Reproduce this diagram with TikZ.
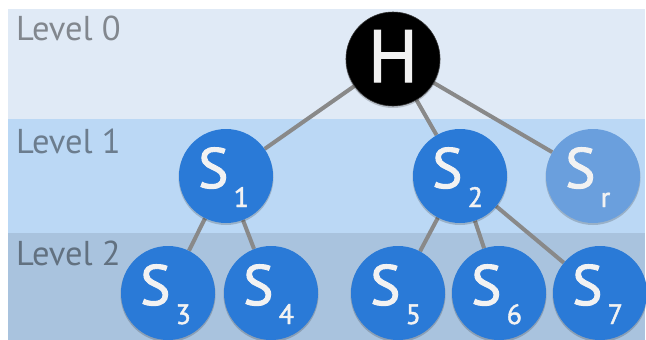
\documentclass[tikz,border=0pt]{standalone}
\usepackage{fontspec}
\setmainfont{PT Sans}
\newfontfamily\medfont{PT Sans}[FakeBold=1.6]
\definecolor{bandA}{HTML}{E0EAF6}
\definecolor{bandB}{HTML}{BBD8F5}
\definecolor{bandC}{HTML}{A9C3DE}
\definecolor{nodeblue}{HTML}{2A7AD7}
\definecolor{nodelight}{HTML}{6A9FDD}
\definecolor{edgegray}{HTML}{898989}
\definecolor{glyph}{HTML}{F2F2F2}
\pgfdeclarelayer{bg}
\pgfdeclarelayer{edges}
\pgfsetlayers{bg,edges,main}
\begin{document}
\begin{tikzpicture}[x=1pt,y=-1pt,
  lvl/.style={anchor=base west, inner sep=0, text=black, text opacity=0.42, font=\fontsize{34.5}{34.5}\selectfont},
  snode/.style={circle, minimum size=94pt, inner sep=0, fill=#1},
  shade/.style={fill=black, opacity=0.18},
  link/.style={draw=edgegray, line width=4pt},
  big/.style={anchor=base west, inner sep=0, text=glyph, font=\medfont\fontsize{57}{57}\selectfont},
  sub/.style={anchor=base west, inner sep=0, text=glyph, font=\medfont\fontsize{28}{28}\selectfont}]
\useasboundingbox (0,0) rectangle (646,340);
\begin{pgfonlayer}{bg}
\fill[white] (0,0) rectangle (646,340);
\fill[bandA] (8,9) rectangle (645,119);
\fill[bandB] (8,119) rectangle (645,233);
\fill[bandC] (8,233) rectangle (645,340);
\node[lvl] (l0) at (16,41) {Level 0};
\node[lvl] (l1) at (16,153) {Level 1};
\node[lvl] (l2) at (16,265) {Level 2};
\end{pgfonlayer}
% shadows
\foreach \x/\y in {393/59,226/176,460/176,593/176,168/293,271/293,398/293,499/293,600/293}
  \fill[shade] (\x,\y+1.5) circle (47.5);
% nodes
\node[snode=black, draw=black!80, line width=0.6pt] (h) at (393,59) {};
\node[snode=nodeblue] (s1) at (226,176) {};
\node[snode=nodeblue] (s2) at (460,176) {};
\node[snode=nodelight] (sr) at (593,176) {};
\node[snode=nodeblue] (s3) at (168,293) {};
\node[snode=nodeblue] (s4) at (271,293) {};
\node[snode=nodeblue] (s5) at (398,293) {};
\node[snode=nodeblue] (s6) at (499,293) {};
\node[snode=nodeblue] (s7) at (600,293) {};
% labels
\node[anchor=base, inner sep=0, text=glyph, font=\medfont\fontsize{74}{74}\selectfont] (hl) at ([yshift=-23pt]h.center) {H};
\foreach \n/\s in {s1/1,s2/2,sr/r,s3/3,s4/4,s5/5,s6/6,s7/7}{
  \node[big] (\n big) at ([xshift=-28pt,yshift=-12pt]\n.center) {S};
  \node[sub] (\n sub) at ([xshift=7.5pt,yshift=-31pt]\n.center) {\s};
}
\begin{pgfonlayer}{edges}
\draw[link] (h) -- (s1);
\draw[link] (h) -- (s2);
\draw[link] (h) -- (sr);
\draw[link] (s1) -- (s3);
\draw[link] (s1) -- (s4);
\draw[link] (s2) -- (s5);
\draw[link] (s2) -- (s6);
\draw[link] (s2) -- (s7);
\end{pgfonlayer}
\end{tikzpicture}
\end{document}
